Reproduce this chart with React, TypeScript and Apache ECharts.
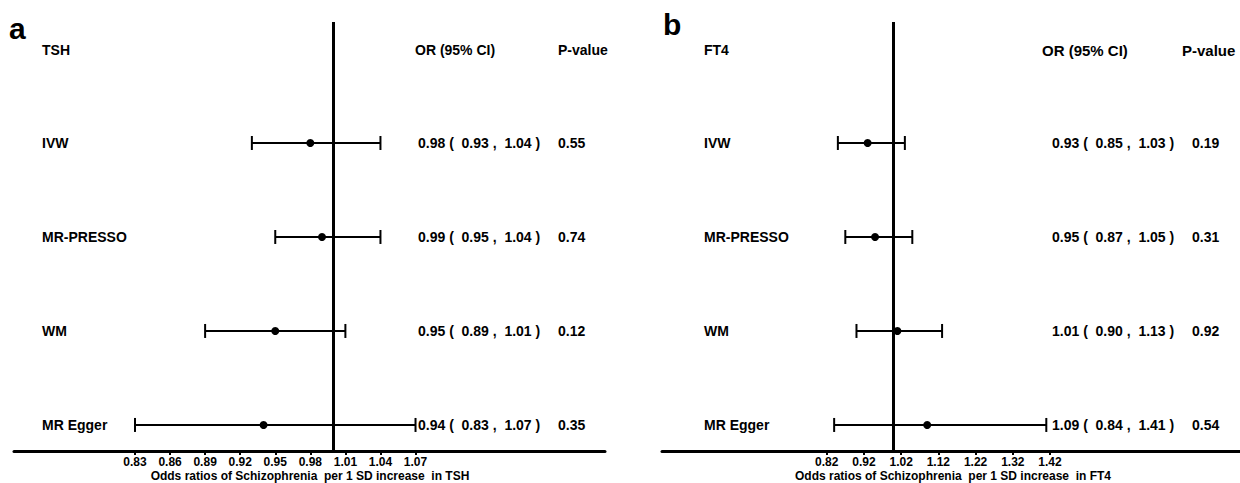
import React, { useEffect, useRef } from "react";
import * as echarts from "echarts";

// ---- data ----
const methods = ["IVW", "MR-PRESSO", "WM", "MR Egger"];

const tshOR = [0.98, 0.99, 0.95, 0.94];
const tshLower = [0.93, 0.95, 0.89, 0.83];
const tshUpper = [1.04, 1.04, 1.01, 1.07];
const tshP = ["0.55", "0.74", "0.12", "0.35"];

const ft4OR = [0.93, 0.95, 1.01, 1.09];
const ft4Lower = [0.85, 0.87, 0.9, 0.84];
const ft4Upper = [1.03, 1.05, 1.13, 1.41];
const ft4P = ["0.19", "0.31", "0.92", "0.54"];

const tshTicks = [0.83, 0.86, 0.89, 0.92, 0.95, 0.98, 1.01, 1.04, 1.07];
const ft4Ticks = [0.82, 0.92, 1.02, 1.12, 1.22, 1.32, 1.42];

const FONT = '"Liberation Sans", Arial, sans-serif';

function fmt(v: number) {
  return v.toFixed(2);
}

function makeSeries(
  idx: number,
  ors: number[],
  los: number[],
  his: number[],
  ps: string[],
  pos: { label: number; or: number; p: number }
) {
  const data = methods.map((_, i) => [ors[i], los[i], his[i], i + 1]);
  return {
    type: "custom",
    xAxisIndex: idx,
    yAxisIndex: idx,
    data,
    encode: { x: [0, 1, 2], y: 3 },
    clip: false,
    renderItem: (params: any, api: any) => {
      const i = params.dataIndex;
      const est = api.coord([api.value(0), api.value(3)]);
      const lo = api.coord([api.value(1), api.value(3)]);
      const hi = api.coord([api.value(2), api.value(3)]);
      const y = est[1];
      const ls = { stroke: "#000", lineWidth: 2 };
      const ts = (text: string) => ({
        text,
        fill: "#000",
        fontSize: 14,
        fontWeight: "bold",
        fontFamily: FONT,
        verticalAlign: "middle",
        align: "left",
      });
      return {
        type: "group",
        children: [
          { type: "line", shape: { x1: lo[0], y1: y, x2: hi[0], y2: y }, style: ls },
          { type: "line", shape: { x1: lo[0], y1: y - 7, x2: lo[0], y2: y + 7 }, style: ls },
          { type: "line", shape: { x1: hi[0], y1: y - 7, x2: hi[0], y2: y + 7 }, style: ls },
          { type: "circle", shape: { cx: est[0], cy: y, r: 4 }, style: { fill: "#000" } },
          { type: "text", x: pos.label, y, style: ts(methods[i]) },
          {
            type: "text",
            x: pos.or,
            y,
            style: ts(
              `${fmt(ors[i])} (  ${fmt(los[i])} ,  ${fmt(his[i])} )`
            ),
          },
          { type: "text", x: pos.p, y, style: ts(ps[i]) },
        ],
      };
    },
    markLine: {
      silent: true,
      symbol: "none",
      label: { show: false },
      lineStyle: { color: "#000", width: 3, type: "solid" },
      data: [{ xAxis: 1 }],
    },
  };
}

function xAxisDef(gridIndex: number, min: number, max: number, ticks: number[]) {
  return {
    type: "value",
    gridIndex,
    position: "bottom",
    min,
    max,
    splitLine: { show: false },
    axisLine: { show: true, onZero: false, lineStyle: { color: "#000", width: 3 } },
    axisTick: {
      show: true,
      customValues: ticks,
      length: 4,
      lineStyle: { color: "#000", width: 2 },
    },
    axisLabel: {
      show: true,
      customValues: ticks,
      formatter: (v: number) => fmt(v),
      color: "#000",
      fontSize: 12,
      fontWeight: "bold",
      fontFamily: FONT,
      margin: 5,
    },
  };
}

function yAxisDef(gridIndex: number) {
  return {
    type: "value",
    gridIndex,
    inverse: true,
    min: -0.287,
    max: 4.277,
    show: false,
  };
}

function headText(text: string, x: number, y: number, size = 14, align = "left") {
  return {
    type: "text",
    x,
    y,
    style: {
      text,
      fill: "#000",
      fontSize: size,
      fontWeight: "bold",
      fontFamily: FONT,
      verticalAlign: "middle",
      align,
    },
  };
}

export default function App() {
  const ref = useRef<HTMLDivElement>(null);
  useEffect(() => {
    if (!ref.current) return;
    const chart = echarts.init(ref.current, undefined, { renderer: "svg" });
    chart.setOption({
      animation: false,
      backgroundColor: "#fff",
      grid: [
        { left: 14, right: 1240 - 605, top: 22, bottom: 32 },
        { left: 662, right: 0, top: 22, bottom: 32 },
      ],
      xAxis: [
        xAxisDef(0, 0.7265, 1.2321, tshTicks),
        xAxisDef(1, 0.3775, 1.9304, ft4Ticks),
      ],
      yAxis: [yAxisDef(0), yAxisDef(1)],
      series: [
        makeSeries(0, tshOR, tshLower, tshUpper, tshP, { label: 42, or: 418, p: 558 }),
        makeSeries(1, ft4OR, ft4Lower, ft4Upper, ft4P, { label: 704, or: 1052, p: 1192 }),
      ],
      graphic: [
        headText("a", 9, 28, 30),
        headText("TSH", 42, 50),
        headText("OR (95% CI)", 415, 50),
        headText("P-value", 558, 50),
        headText("b", 663, 24, 30),
        headText("FT4", 704, 50),
        headText("OR (95% CI)", 1042, 50, 15),
        headText("P-value", 1182, 50, 15),
        headText(
          "Odds ratios of Schizophrenia  per 1 SD increase  in TSH",
          310,
          476,
          12,
          "center"
        ),
        headText(
          "Odds ratios of Schizophrenia  per 1 SD increase  in FT4",
          953,
          476,
          12,
          "center"
        ),
      ],
    });
    return () => chart.dispose();
  }, []);
  return (
    <div
      ref={ref}
      style={{ position: "absolute", left: 0, top: 0, width: 1240, height: 483 }}
    />
  );
}
